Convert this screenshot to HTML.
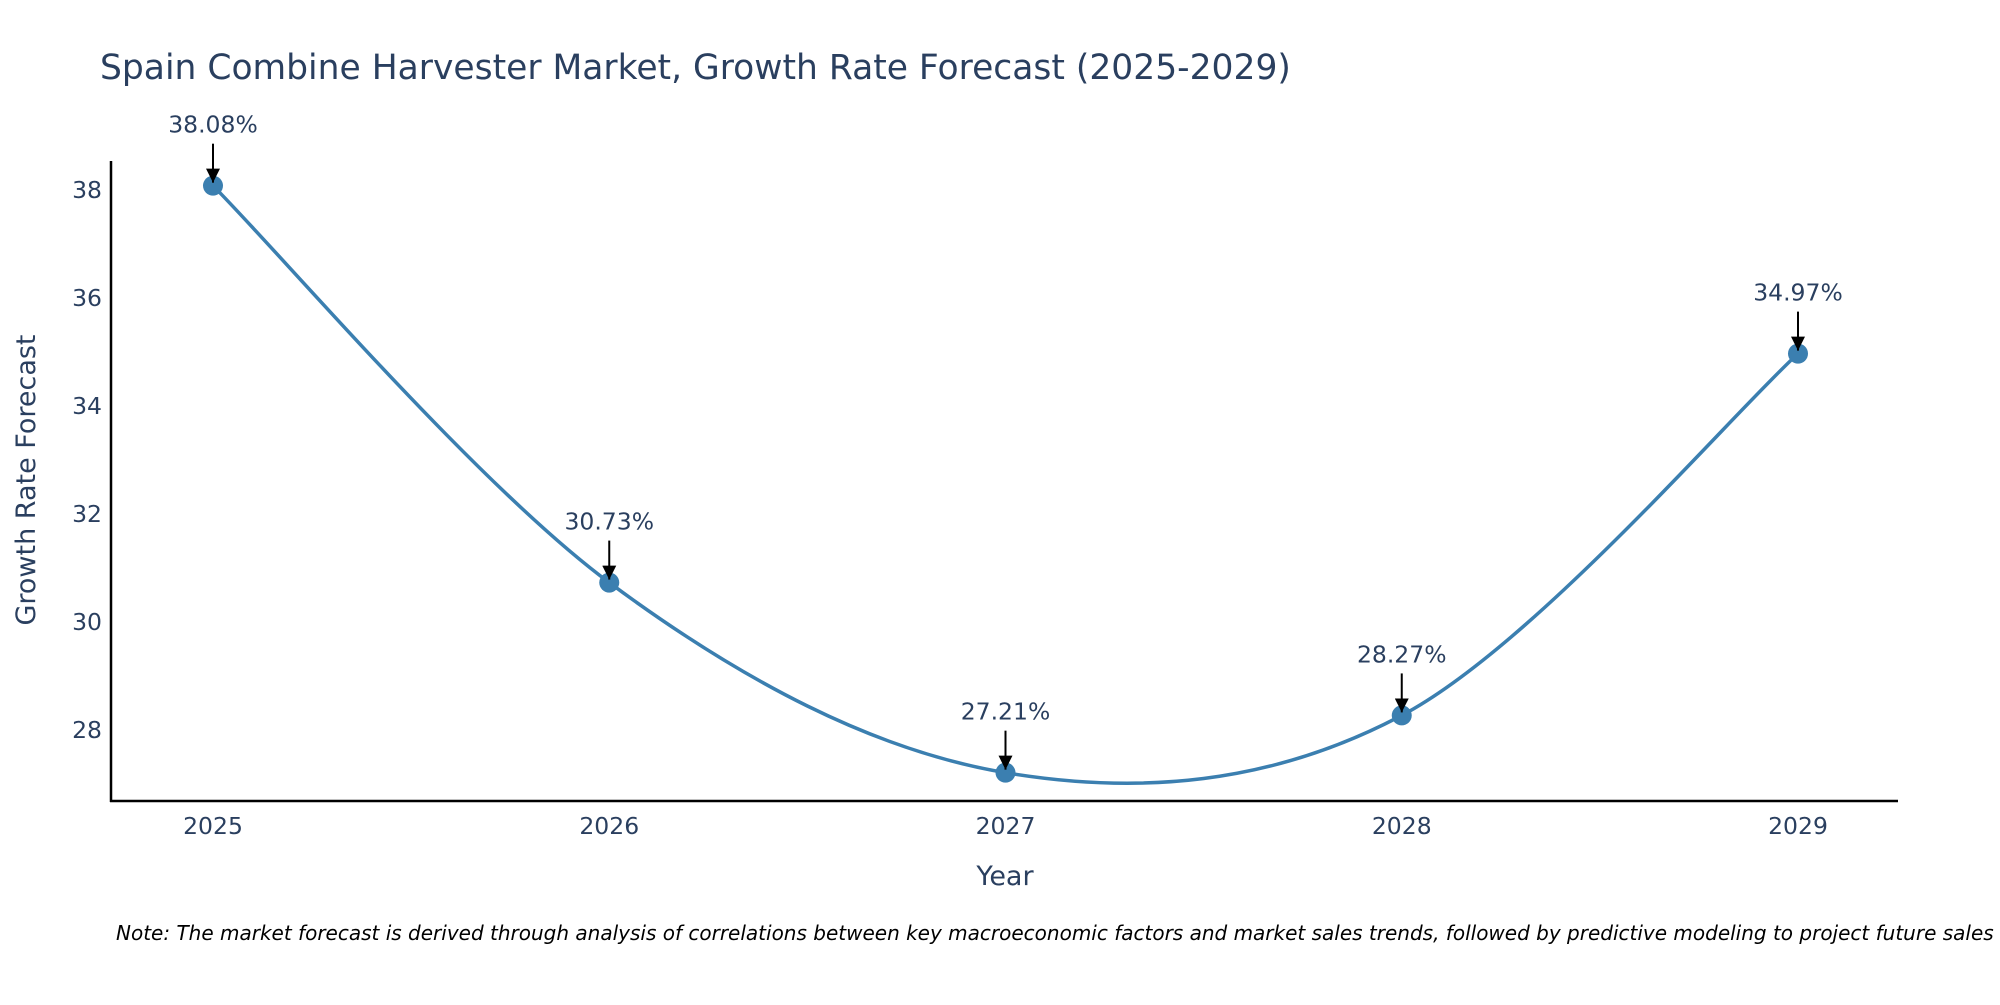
<!DOCTYPE html>
<html><head><meta charset="utf-8"><style>
body{margin:0;background:#fff;}
svg text{font-family:"DejaVu Sans","Liberation Sans",sans-serif;fill:#2a3f5f;}
</style></head><body>
<svg id="chart" width="2000" height="1000" xmlns="http://www.w3.org/2000/svg">
<text x="100" y="79" font-size="34.5">Spain Combine Harvester Market, Growth Rate Forecast (2025-2029)</text>
<g id="yticks"></g>
<g id="xticks"></g>
<line x1="111" y1="161" x2="111" y2="802" stroke="#000" stroke-width="2.5"/>
<line x1="110" y1="801" x2="1898" y2="801" stroke="#000" stroke-width="2.5"/>
<path id="line" fill="none" stroke="#3b7fb0" stroke-width="3.5"/>
<g id="marks"></g>
<text x="0" y="0" font-size="27" text-anchor="middle" transform="translate(35,480) rotate(-90)">Growth Rate Forecast</text>
<text x="1005" y="885" font-size="27" text-anchor="middle">Year</text>
<text x="116" y="940" font-size="20" font-style="italic" style="fill:#000">Note: The market forecast is derived through analysis of correlations between key macroeconomic factors and market sales trends, followed by predictive modeling to project future sales</text>
<defs><marker id="ah" viewBox="0 0 10 10" refX="10" refY="5" markerWidth="14" markerHeight="14" markerUnits="userSpaceOnUse" orient="auto"><path d="M0,0L10,5L0,10z" fill="#000"/></marker></defs>
</svg>
<script>
const years=[2025,2026,2027,2028,2029];
const values=[38.08,30.73,27.21,28.27,34.97];
const labels=["38.08%","30.73%","27.21%","28.27%","34.97%"];
const yTicks=[28,30,32,34,36,38];
const NS="http://www.w3.org/2000/svg";
const X=v=>213+(v-2025)*(1798-213)/4;
const Y=v=>190+(38-v)*54;
function mk(t,a,p){const e=document.createElementNS(NS,t);for(const k in a)e.setAttribute(k,a[k]);(p||document.getElementById('chart')).appendChild(e);return e;}
const yt=document.getElementById('yticks'),xt=document.getElementById('xticks'),mg=document.getElementById('marks');
yTicks.forEach(v=>{const t=mk('text',{x:102,y:Y(v)+8,'font-size':23.5,'text-anchor':'end'},yt);

t.textContent=v;});
years.forEach(v=>{const t=mk('text',{x:X(v),y:834,'font-size':23.5,'text-anchor':'middle'},xt);

t.textContent=v;});
const P=years.map((y,i)=>[X(y),Y(values[i])]);
let d='M'+P[0][0]+','+P[0][1];
for(let i=0;i<P.length-1;i++){const p0=P[Math.max(i-1,0)],p1=P[i],p2=P[i+1],p3=P[Math.min(i+2,P.length-1)];
const c1=[p1[0]+(p2[0]-p0[0])/6,p1[1]+(p2[1]-p0[1])/6],c2=[p2[0]-(p3[0]-p1[0])/6,p2[1]-(p3[1]-p1[1])/6];
d+=` C${c1[0]},${c1[1]} ${c2[0]},${c2[1]} ${p2[0]},${p2[1]}`;}
document.getElementById('line').setAttribute('d',d);
P.forEach((p,i)=>{const c=mk('circle',{cx:p[0],cy:p[1],r:10,fill:'#3b7fb0'},mg);


const l=mk('line',{x1:p[0],y1:p[1]-42,x2:p[0],y2:p[1]-3,stroke:'#000','stroke-width':2,'marker-end':'url(#ah)'},mg);


const t=mk('text',{x:p[0],y:p[1]-53,'font-size':23.5,'text-anchor':'middle'},mg);

t.textContent=labels[i];});
</script>
</body></html>
